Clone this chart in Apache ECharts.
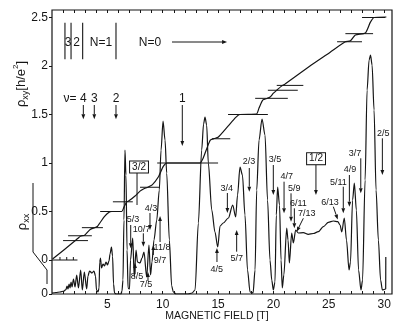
<!DOCTYPE html>
<html><head><meta charset="utf-8">
<script src="https://cdn.jsdelivr.net/npm/echarts@6/dist/echarts.min.js"></script>
<style>html,body{margin:0;padding:0;background:#fff}#c{width:410px;height:325px}</style>
</head><body><div id="c"></div>
<script>
// ---------- data (B in tesla) ----------
const rxyCurve = [[0.05,0.01],[2.0,0.19],[2.45,0.235],[2.6,0.248],[2.95,0.256],[3.45,0.315],[3.85,0.333],[4.1,0.345],[4.25,0.37],[4.75,0.45],[5.15,0.493],[5.4,0.5],[6.3,0.5],[6.5,0.545],[6.75,0.598],[6.95,0.61],[7.5,0.66],[7.95,0.71],[8.3,0.735],[8.6,0.748],[9.05,0.775],[9.6,0.855],[10.05,0.965],[10.4,1.0],[13.35,1.0],[13.65,1.05],[14.0,1.155],[14.3,1.237],[14.65,1.252],[15.0,1.265],[15.9,1.38],[16.6,1.47],[16.95,1.5],[18.45,1.503],[18.7,1.567],[19.05,1.65],[19.45,1.667],[19.7,1.68],[20.0,1.72],[20.35,1.755],[20.7,1.79],[21.05,1.815],[23.3,2.0],[25.1,2.14],[26.45,2.247],[26.95,2.26],[27.4,2.32],[28.3,2.34],[28.75,2.45],[29.1,2.5],[30.2,2.505]];
const rxxCurve = [[0,0.01],[0.36,0.015],[0.72,0.02],[1.08,0.03],[1.26,0.045],[1.36,0.08],[1.45,0.05],[1.54,0.1],[1.63,0.06],[1.72,0.12],[1.81,0.07],[1.94,0.15],[2.08,0.07],[2.23,0.19],[2.39,0.06],[2.59,0.24],[2.74,0.04],[2.92,0.22],[3.13,0.05],[3.25,0.18],[3.39,0.23],[3.61,0.21],[3.79,0.23],[3.93,0.18],[4.02,0.04],[4.16,0.02],[4.25,0.06],[4.31,0.32],[4.38,0.36],[4.47,0.26],[4.61,0.3],[4.74,0.28],[4.88,0.32],[5.01,0.29],[5.15,0.33],[5.24,0.4],[5.37,0.47],[5.47,0.38],[5.56,0.1],[5.65,0.01],[5.78,0],[6.23,0],[6.32,0.03],[6.41,0.14],[6.5,0.74],[6.59,1.44],[6.68,1.19],[6.78,0.44],[6.87,0.06],[7.0,0.05],[7.09,0.34],[7.29,0.56],[7.43,0.17],[7.59,0.44],[7.72,0.32],[7.95,0.31],[8.13,0.36],[8.31,0.42],[8.55,0.17],[8.76,0.49],[8.9,0.19],[9.03,0.32],[9.21,0.54],[9.46,0.74],[9.69,1.04],[9.85,1.44],[10.03,1.73],[10.21,1.54],[10.36,1.21],[10.6,0.54],[10.81,0.08],[10.96,0.02],[11.2,0],[12.29,0],[12.65,0.01],[12.92,0.04],[13.22,0.71],[13.52,1.44],[13.69,1.7],[13.82,1.77],[13.97,1.69],[14.12,1.31],[14.43,0.84],[14.72,0.62],[14.97,0.47],[15.18,0.68],[15.47,0.71],[15.93,0.76],[16.32,0.89],[16.59,0.77],[16.76,0.99],[16.98,1.27],[17.2,1.19],[17.43,0.79],[17.66,0.24],[17.89,0.02],[18.16,0.01],[18.34,0.24],[18.49,1.04],[18.7,1.54],[18.97,1.75],[19.24,1.59],[19.47,0.94],[19.69,0.34],[19.85,0.14],[19.99,0.04],[20.14,0.12],[20.26,0.79],[20.38,1.07],[20.55,0.89],[20.69,0.34],[20.8,0.06],[20.94,0.19],[21.2,0.66],[21.32,0.54],[21.44,0.31],[21.65,0.61],[21.8,0.51],[22.01,0.64],[22.25,0.61],[22.7,0.613],[23.15,0.597],[23.6,0.605],[24.06,0.623],[24.51,0.673],[24.96,0.717],[25.41,0.73],[25.81,0.723],[26.02,0.69],[26.17,0.62],[26.4,0.76],[26.6,0.54],[26.83,0.24],[26.96,0.32],[27.15,0.94],[27.31,1.11],[27.49,0.84],[27.69,0.24],[27.91,0.04],[28.05,0.14],[28.28,1.14],[28.46,2.04],[28.64,2.34],[28.77,2.39],[28.91,2.29],[29.09,1.84],[29.27,1.04],[29.48,0.54],[29.68,0.14],[29.84,0.04],[30.14,0.05],[30.15,0.37]];
// quantized Hall values marked by short dashes: [rho_xy, B from, B to]
const plateauMarks = [[0.2,1.0,3.25],[0.25,1.45,3.6],[1/3,2.7,4.6],[0.5,4.35,5.9],[0.6,5.5,7.3],[0.75,7.95,9.75],[1.0,9.5,15.0],[1.25,14.45,16.1],[1.5,15.9,19.5],[5/3,18.35,21.3],[1.75,19.5,22.2],[1.8,20.3,22.7],[2.25,25.75,28.0],[7/3,26.5,29.0],[2.5,28.0,30.1]];
const xTickLabels = [5,10,15,20,25,30];
const xMinorTicks = [1,2,3,4,5,6,7,8,9,10,11,12,13,14,15,16,17,18,19,20,21,22,23,24,25,26,27,28,29,30];
const rxyTickLabels = [0,0.5,1,1.5,2,2.5];
const rxxTickLabels = [0];
const zeroRefEnd = 2.3;
const zeroRefTicks = [0.72,1.33,1.93];
// annotations in (B, rho_xx) coordinates
const levelLines = [1.17,1.72,2.77,5.78];
const levelLineSpan = [2.347,2.713];
const levelLabels = [['3',1.45,2.517],['2',2.23,2.517],['N=1',4.43,2.517],['N=0',8.85,2.517],['ν=',1.63,1.957],['4',2.83,1.957],['3',3.82,1.957],['2',5.78,1.957],['1',11.77,1.957]];
const fractionLabels = [['4/3',8.94,0.855],['5/3',7.32,0.74],['10/7',8.08,0.64],['11/8',9.94,0.46],['9/7',9.76,0.33],['8/5',7.68,0.17],['7/5',8.49,0.09],['4/5',14.88,0.24],['3/4',15.78,1.057],['5/7',16.68,0.357],['2/3',17.8,1.323],['3/5',20.14,1.34],['4/7',21.2,1.173],['5/9',21.89,1.057],['6/11',22.25,0.907],['7/13',23.0,0.80],['6/13',25.11,0.913],['5/11',25.86,1.113],['4/9',26.92,1.24],['3/7',27.37,1.407],['2/5',29.93,1.607]];
const boxedLabels = [['3/2',7.86,1.27],['1/2',23.85,1.353]];
// arrows: [B from, rho from, B to, rho to] (head at the "to" end)
const arrows = [[2.83,1.89,2.83,1.747],[3.82,1.89,3.82,1.747],[5.78,1.89,5.78,1.747],[11.77,1.89,11.77,1.48],[10.84,2.52,15.81,2.52],
 [8.85,0.81,8.85,0.64],[7.11,0.69,7.11,0.457],[8.25,0.607,8.25,0.473],[9.76,0.52,9.76,0.78],[9.15,0.39,9.15,0.49],[7.5,0.2,7.5,0.31],[8.67,0.13,8.67,0.22],
 [14.9,0.32,14.9,0.46],[15.84,1.01,15.84,0.81],[16.68,0.423,16.68,0.64],[17.82,1.26,17.82,1.023],[19.99,1.29,19.99,0.99],[20.96,1.123,20.96,0.807],[21.59,1.007,21.59,0.723],[21.89,0.857,21.89,0.657],[22.7,0.757,22.1,0.623],[23.84,1.3,23.84,0.99],[25.41,0.873,25.81,0.745],[26.31,1.073,26.31,0.807],[26.86,1.19,26.86,0.873],[27.89,1.357,27.89,1.007],[29.84,1.557,29.84,1.19]];
const connectors = [[7.68,1.21,7.68,0.89]];

// ---------- chart ----------
const FONT = '"Liberation Sans", Arial, sans-serif';
const INK = '#151515';
const chart = echarts.init(document.getElementById('c'), null, {renderer:'canvas'});
function arrowShape(p1, p2){
  const ang = Math.atan2(p2[1]-p1[1], p2[0]-p1[0]);
  const L = 5, W = 1.9;
  const bx = p2[0]-L*Math.cos(ang), by = p2[1]-L*Math.sin(ang);
  const nx = -Math.sin(ang)*W, ny = Math.cos(ang)*W;
  return {type:'group', children:[
    {type:'line', shape:{x1:p1[0],y1:p1[1],x2:bx,y2:by}, style:{stroke:INK,lineWidth:1}},
    {type:'polygon', shape:{points:[[p2[0],p2[1]],[bx+nx,by+ny],[bx-nx,by-ny]]}, style:{fill:INK}}
  ]};
}
const option = {
  animation:false,
  grid:{left:52,right:18,top:10,bottom:31,show:true,borderColor:INK,borderWidth:1.2,backgroundColor:'transparent'},
  xAxis:[
    {type:'value',min:0,max:30.71,position:'bottom',axisLine:{show:false,onZero:false},splitLine:{show:false},
     axisTick:{show:true,inside:true,length:3,customValues:xMinorTicks,lineStyle:{color:INK,width:1}},
     axisLabel:{customValues:xTickLabels,color:INK,fontSize:12,fontFamily:FONT,margin:5}},
    {type:'value',min:0,max:30.71,position:'top',axisLine:{show:false,onZero:false},splitLine:{show:false},
     axisTick:{show:true,inside:true,length:3,customValues:xMinorTicks,lineStyle:{color:INK,width:1}},
     axisLabel:{show:false}}
  ],
  yAxis:[
    {type:'value',min:-34/97,max:250/97,position:'left',axisLine:{show:false,onZero:false},splitLine:{show:false},
     axisTick:{show:true,length:3,customValues:rxyTickLabels,lineStyle:{color:INK}},
     axisLabel:{customValues:rxyTickLabels,color:INK,fontSize:12,fontFamily:FONT,margin:4}},
    {type:'value',min:0,max:2.84,position:'left',axisLine:{show:false,onZero:false},splitLine:{show:false},
     axisTick:{show:true,length:3,customValues:rxxTickLabels,lineStyle:{color:INK}},
     axisLabel:{customValues:rxxTickLabels,color:INK,fontSize:12,fontFamily:FONT,margin:4}}
  ],
  series:[
    {type:'line',name:'rho_xy',xAxisIndex:0,yAxisIndex:0,data:rxyCurve,showSymbol:false,smooth:0.2,
     lineStyle:{color:INK,width:1.2},silent:true},
    {type:'line',name:'rho_xx',xAxisIndex:0,yAxisIndex:1,data:rxxCurve,showSymbol:false,smooth:0.3,smoothMonotone:'x',
     lineStyle:{color:INK,width:1.2},silent:true},
    {type:'custom',name:'plateaus',xAxisIndex:0,yAxisIndex:0,silent:true,
     data:plateauMarks.map(p=>[p[1],p[2],p[0]]),encode:{x:[0,1],y:2},
     renderItem:(params,api)=>{
       const a=api.coord([api.value(0),api.value(2)]), b=api.coord([api.value(1),api.value(2)]);
       return {type:'line',shape:{x1:a[0],y1:a[1],x2:b[0],y2:b[1]},style:{stroke:INK,lineWidth:1}};
     }},
    {type:'custom',name:'zeroRef',xAxisIndex:0,yAxisIndex:0,silent:true,
     data:[[0,zeroRefEnd,0]],encode:{x:[0,1],y:2},
     renderItem:(params,api)=>{
       const a=api.coord([0,0]), b=api.coord([zeroRefEnd,0]);
       const ch=[{type:'line',shape:{x1:a[0],y1:a[1],x2:b[0],y2:b[1]},style:{stroke:INK,lineWidth:1}}];
       zeroRefTicks.forEach(t=>{const p=api.coord([t,0]);ch.push({type:'line',shape:{x1:p[0],y1:p[1],x2:p[0],y2:p[1]-3},style:{stroke:INK,lineWidth:1}});});
       return {type:'group',children:ch};
     }},
    {type:'custom',name:'levelLines',xAxisIndex:0,yAxisIndex:1,silent:true,
     data:levelLines.map(b=>[b,levelLineSpan[0],levelLineSpan[1]]),encode:{x:0,y:[1,2]},
     renderItem:(params,api)=>{
       const a=api.coord([api.value(0),api.value(1)]), b=api.coord([api.value(0),api.value(2)]);
       return {type:'line',shape:{x1:a[0],y1:a[1],x2:b[0],y2:b[1]},style:{stroke:INK,lineWidth:1.1}};
     }},
    {type:'custom',name:'connectors',xAxisIndex:0,yAxisIndex:1,silent:true,
     data:connectors,encode:{x:[0,2],y:[1,3]},
     renderItem:(params,api)=>{
       const a=api.coord([api.value(0),api.value(1)]), b=api.coord([api.value(2),api.value(3)]);
       return {type:'line',shape:{x1:a[0],y1:a[1],x2:b[0],y2:b[1]},style:{stroke:INK,lineWidth:1}};
     }},
    {type:'custom',name:'arrows',xAxisIndex:0,yAxisIndex:1,silent:true,
     data:arrows,encode:{x:[0,2],y:[1,3]},
     renderItem:(params,api)=>arrowShape(api.coord([api.value(0),api.value(1)]),api.coord([api.value(2),api.value(3)]))},
    {type:'custom',name:'levelLabels',xAxisIndex:0,yAxisIndex:1,silent:true,
     data:levelLabels.map(l=>[l[1],l[2]]),encode:{x:0,y:1},
     renderItem:(params,api)=>{
       const p=api.coord([api.value(0),api.value(1)]);
       return {type:'text',x:p[0],y:p[1],style:{text:levelLabels[params.dataIndex][0],fill:INK,fontSize:12,fontFamily:FONT,align:'center',verticalAlign:'middle'}};
     }},
    {type:'custom',name:'fractions',xAxisIndex:0,yAxisIndex:1,silent:true,
     data:fractionLabels.map(l=>[l[1],l[2]]),encode:{x:0,y:1},
     renderItem:(params,api)=>{
       const p=api.coord([api.value(0),api.value(1)]);
       return {type:'text',x:p[0],y:p[1],style:{text:fractionLabels[params.dataIndex][0],fill:INK,fontSize:9,fontFamily:FONT,align:'center',verticalAlign:'middle'}};
     }},
    {type:'custom',name:'boxed',xAxisIndex:0,yAxisIndex:1,silent:true,
     data:boxedLabels.map(l=>[l[1],l[2]]),encode:{x:0,y:1},
     renderItem:(params,api)=>{
       const p=api.coord([api.value(0),api.value(1)]);
       return {type:'text',x:p[0],y:p[1],style:{text:boxedLabels[params.dataIndex][0],fill:INK,fontSize:10,fontFamily:FONT,align:'center',verticalAlign:'middle',
         borderColor:INK,borderWidth:1,padding:[1,2,0,2],backgroundColor:'#fff'}};
     }}
  ],
  graphic:[
    {type:'polyline',silent:true,shape:{points:[[33,183],[33,252],[47,270],[47,284]]},style:{stroke:INK,lineWidth:1,fill:null}},
    {type:'text',silent:true,x:21,y:84,rotation:Math.PI/2,style:{text:'{a|ρ}{b|xy}{a|[h/e}{c|2}{a|]}',align:'center',verticalAlign:'middle',fill:INK,
      rich:{a:{fontSize:13,fontFamily:FONT,fill:INK,lineHeight:18,verticalAlign:'middle'},b:{fontSize:9,fontFamily:FONT,fill:INK,lineHeight:18,verticalAlign:'bottom'},c:{fontSize:8,fontFamily:FONT,fill:INK,lineHeight:18,verticalAlign:'top'}}}},
    {type:'text',silent:true,x:22,y:222,rotation:Math.PI/2,style:{text:'{a|ρ}{b|xx}',align:'center',verticalAlign:'middle',fill:INK,
      rich:{a:{fontSize:13,fontFamily:FONT,fill:INK,lineHeight:18,verticalAlign:'middle'},b:{fontSize:9,fontFamily:FONT,fill:INK,lineHeight:18,verticalAlign:'bottom'}}}},
    {type:'text',silent:true,x:217,y:316,style:{text:'MAGNETIC FIELD [T]',fontSize:10.5,fontFamily:FONT,fill:INK,align:'center',verticalAlign:'middle'}}
  ]
};
chart.setOption(option);
</script></body></html>
